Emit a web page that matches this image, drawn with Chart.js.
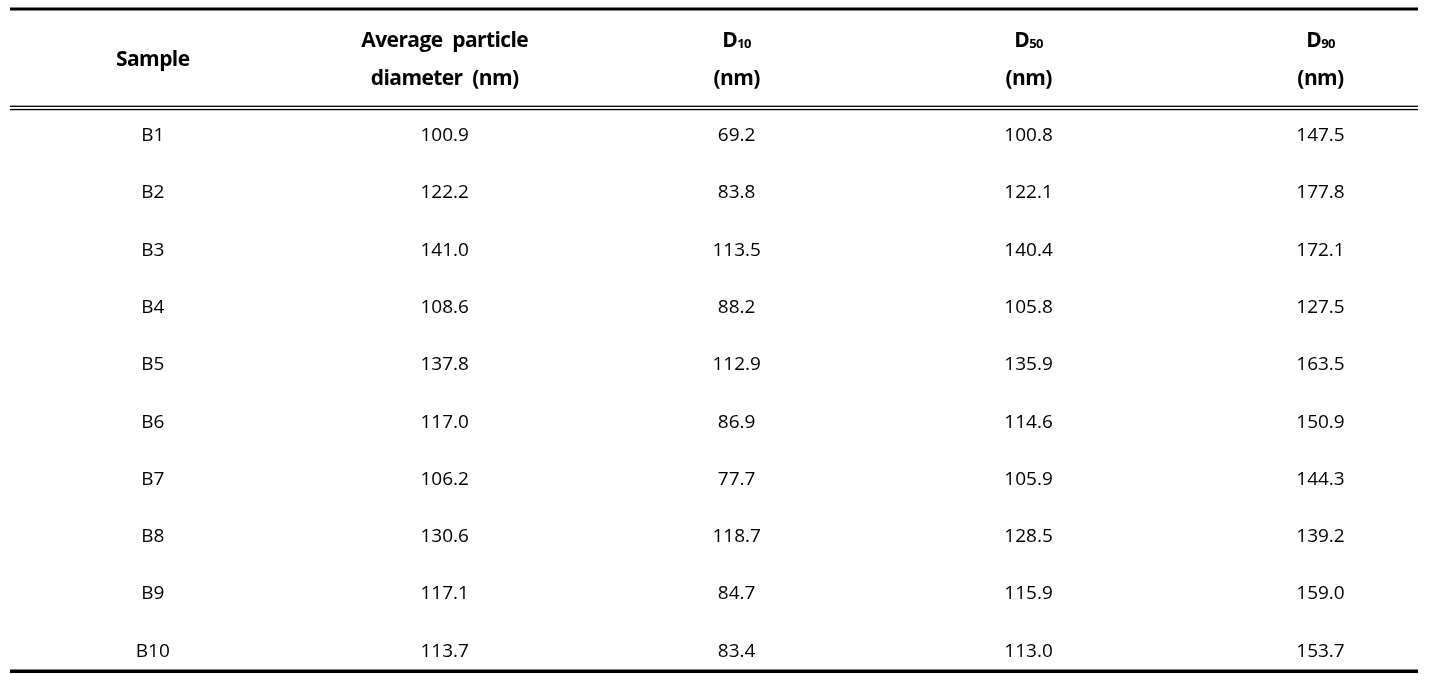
<!DOCTYPE html>
<html>
<head>
<meta charset="utf-8">
<script src="https://cdn.jsdelivr.net/npm/chart.js@4.4.1/dist/chart.umd.min.js"></script>
<style>
  html, body { margin: 0; padding: 0; background: #fff; }
  #wrap { width: 1438px; height: 674px; }
</style>
</head>
<body>
<div id="wrap"><canvas id="tableChart"></canvas></div>
<script>
const samples = ["B1", "B2", "B3", "B4", "B5", "B6", "B7", "B8", "B9", "B10"];
const avgDiameter = [100.9, 122.2, 141.0, 108.6, 137.8, 117.0, 106.2, 130.6, 117.1, 113.7];
const d10 = [69.2, 83.8, 113.5, 88.2, 112.9, 86.9, 77.7, 118.7, 84.7, 83.4];
const d50 = [100.8, 122.1, 140.4, 105.8, 135.9, 114.6, 105.9, 128.5, 115.9, 113.0];
const d90 = [147.5, 177.8, 172.1, 127.5, 163.5, 150.9, 144.3, 139.2, 159.0, 153.7];

// header cells: each line is a list of [text, isSubscript]
const headers = [
    [[["Sample", false]]],
    [[["Average  particle", false]], [["diameter  (nm)", false]]],
    [[["D", false], ["10", true]], [["(nm)", false]]],
    [[["D", false], ["50", true]], [["(nm)", false]]],
    [[["D", false], ["90", true]], [["(nm)", false]]],
];

const columns = [
    samples,
    avgDiameter.map(v => v.toFixed(1)),
    d10.map(v => v.toFixed(1)),
    d50.map(v => v.toFixed(1)),
    d90.map(v => v.toFixed(1)),
];

const FONT = "'Open Sans', 'Noto Sans', sans-serif";
const HEADER_ROW = -0.3;   // header sits above row 1
const RULE_ROW = 0.546;    // double rule under the header

const tablePlugin = {
    id: "tableText",
    afterDatasetsDraw(chart) {
        const ctx = chart.ctx;
        const area = chart.chartArea;
        const xs = chart.scales.x;
        const ys = chart.scales.y;
        ctx.save();
        ctx.fillStyle = "#000";
        ctx.textAlign = "center";
        ctx.textBaseline = "alphabetic";

        // body cells
        ctx.font = "19px " + FONT;
        chart.data.datasets.forEach((ds, di) => {
            const meta = chart.getDatasetMeta(di);
            meta.data.forEach((pt, i) => {
                ctx.fillText(ds.cellText[i], pt.x, pt.y + 7);
            });
        });

        // header cells
        const hy = ys.getPixelForValue(HEADER_ROW);
        ctx.letterSpacing = "-0.6px";
        headers.forEach((lines, ci) => {
            const cx = xs.getPixelForValue(ci);
            lines.forEach((parts, li) => {
                const y = hy + 7 + (li - (lines.length - 1) / 2) * 38;
                let widths = parts.map(([t, sub]) => {
                    ctx.font = (sub ? "bold 13px " : "bold 21px ") + FONT;
                    return ctx.measureText(t).width;
                });
                const total = widths.reduce((a, b) => a + b, 0);
                let x = cx - total / 2;
                ctx.textAlign = "left";
                parts.forEach(([t, sub], k) => {
                    ctx.font = (sub ? "bold 13px " : "bold 21px ") + FONT;
                    ctx.fillText(t, x, y + (sub ? 1 : 0));
                    x += widths[k];
                });
                ctx.textAlign = "center";
            });
        });
        ctx.letterSpacing = "0px";

        // rules
        const left = 10, right = chart.width - 20;
        ctx.fillRect(left, area.top - 1.5, right - left, 3);
        ctx.fillRect(left, area.bottom - 1.5, right - left, 3.5);
        const ry = ys.getPixelForValue(RULE_ROW);
        ctx.fillRect(left, ry - 2.3, right - left, 1.3);
        ctx.fillRect(left, ry + 1, right - left, 1.3);
        ctx.restore();
    },
};

const datasets = columns.map((col, ci) => ({
    label: "col" + ci,
    data: col.map((_, i) => ({ x: ci, y: i + 1 })),
    cellText: col,
    pointRadius: 0,
    showLine: false,
}));

new Chart(document.getElementById("tableChart"), {
    type: "scatter",
    data: { datasets },
    options: {
        responsive: true,
        maintainAspectRatio: false,
        animation: false,
        events: [],
        layout: { padding: { top: 9, bottom: 3, left: 10, right: 20 } },
        scales: {
            x: { type: "linear", min: -0.489, max: 4.334, display: false },
            y: { type: "linear", min: -1.18, max: 10.37, reverse: true, display: false },
        },
        plugins: {
            legend: { display: false },
            tooltip: { enabled: false },
        },
    },
    plugins: [tablePlugin],
});
</script>
</body>
</html>
